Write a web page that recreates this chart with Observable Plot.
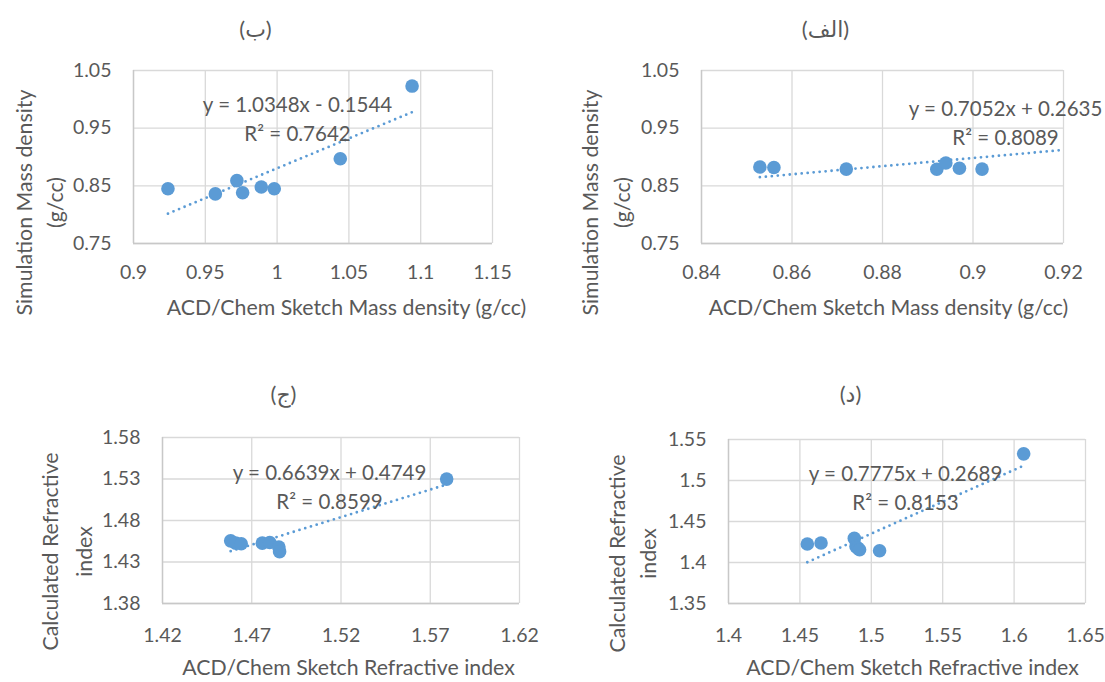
<!DOCTYPE html>
<html><head><meta charset="utf-8">
<script src="https://cdn.jsdelivr.net/npm/d3@7"></script>
<script src="https://cdn.jsdelivr.net/npm/@observablehq/plot@0.6"></script>
<style>
html,body{margin:0;padding:0;background:#fff;}
#root{position:relative;width:1105px;height:682px;overflow:hidden;}
#root svg{position:absolute;}
</style></head><body><div id="root"></div>
<script>
// ---- Panel (ب): mass density ----
const xB = [0.924, 0.957, 0.972, 0.976, 0.989, 0.998, 1.044, 1.094];
const yB = [0.845, 0.836, 0.859, 0.838, 0.848, 0.845, 0.897, 1.023];
const xTicksB = [0.9, 0.95, 1, 1.05, 1.1, 1.15];
const yTicksB = [0.75, 0.85, 0.95, 1.05];
const fitB = {slope: 1.0348, intercept: -0.1544, r2: "0.7642", from: 0.924, to: 1.094};

// ---- Panel (الف): mass density ----
const xA = [0.8529, 0.856, 0.872, 0.892, 0.894, 0.897, 0.902];
const yA = [0.8827, 0.8817, 0.879, 0.8787, 0.8896, 0.8805, 0.879];
const xTicksA = [0.84, 0.86, 0.88, 0.9, 0.92];
const yTicksA = [0.75, 0.85, 0.95, 1.05];
const fitA = {slope: 0.7052, intercept: 0.2635, r2: "0.8089", from: 0.8529, to: 0.92};

// ---- Panel (ج): refractive index ----
const xJ = [1.4582, 1.461, 1.4641, 1.4759, 1.4801, 1.4852, 1.4856, 1.5792];
const yJ = [1.4555, 1.4527, 1.452, 1.4527, 1.4535, 1.448, 1.4425, 1.5299];
const xTicksJ = [1.42, 1.47, 1.52, 1.57, 1.62];
const yTicksJ = [1.38, 1.43, 1.48, 1.53, 1.58];
const fitJ = {slope: 0.6639, intercept: 0.4749, r2: "0.8599", from: 1.4582, to: 1.5792};

// ---- Panel (د): refractive index ----
const xD = [1.4552, 1.4648, 1.4881, 1.4893, 1.4905, 1.4918, 1.5058, 1.6067];
const yD = [1.4225, 1.4237, 1.4294, 1.4195, 1.4175, 1.4155, 1.4144, 1.5325];
const xTicksD = [1.4, 1.45, 1.5, 1.55, 1.6, 1.65];
const yTicksD = [1.35, 1.4, 1.45, 1.5, 1.55];
const fitD = {slope: 0.7775, intercept: 0.2689, r2: "0.8153", from: 1.4552, to: 1.6067};

const titles = ["(ب)", "(الف)", "(ج)", "(د)"];
const xTitleMass = "ACD/Chem Sketch Mass density (g/cc)";
const yTitleMass = "Simulation Mass density\n(g/cc)";
const xTitleRI = "ACD/Chem Sketch Refractive index";
const yTitleRI = "Calculated Refractive\nindex";

const FONT = "Lato, 'DejaVu Sans', sans-serif";
const TXT = "#595959";
const BLUE = "#5b9bd5";
const GRID = "#d9d9d9";

function fmt(d) { return String(+d.toFixed(4)); }
function eqText(f) {
  const s = f.intercept < 0 ? " - " : " + ";
  return "y = " + f.slope.toFixed(4) + "x" + s + Math.abs(f.intercept).toFixed(4) + "\nR\u00b2 = " + f.r2;
}

function panel(cfg) {
  const pts = cfg.xs.map((x, i) => ({x, y: cfg.ys[i]}));
  const trend = [cfg.fit.from, cfg.fit.to].map(x => ({x, y: cfg.fit.slope * x + cfg.fit.intercept}));
  const L = cfg.left + cfg.ml, T = cfg.top + cfg.mt; // frame top-left on page
  const at = (ax, ay) => ({frameAnchor: "top-left", dx: ax - L, dy: ay - T, textAnchor: "middle", lineAnchor: "middle"});
  const svg = Plot.plot({
    width: cfg.w, height: cfg.h,
    marginLeft: cfg.ml, marginRight: cfg.mr, marginTop: cfg.mt, marginBottom: cfg.mb,
    style: {fontFamily: FONT, color: TXT, background: "transparent", overflow: "visible"},
    x: {domain: [cfg.xt[0], cfg.xt[cfg.xt.length - 1]], label: null},
    y: {domain: [cfg.yt[0], cfg.yt[cfg.yt.length - 1]], label: null},
    marks: [
      Plot.gridX(cfg.xt, {stroke: GRID, strokeOpacity: 1, strokeWidth: 1.3}),
      Plot.gridY(cfg.yt, {stroke: GRID, strokeOpacity: 1, strokeWidth: 1.3}),
      Plot.ruleX([cfg.xt[0]], {stroke: "#c8c8c8", strokeWidth: 1.4}),
      Plot.ruleY([cfg.yt[0]], {stroke: "#c8c8c8", strokeWidth: 1.4}),
      Plot.axisX(cfg.xt, {tickSize: 0, tickPadding: cfg.xPad, fontSize: 19.5, tickFormat: fmt, label: null, fill: TXT}),
      Plot.axisY(cfg.yt, {tickSize: 0, tickPadding: 22, fontSize: 19.5, tickFormat: fmt, label: null, fill: TXT}),
      Plot.line(trend, {x: "x", y: "y", stroke: BLUE, strokeWidth: 2.8, strokeDasharray: "0 6", strokeLinecap: "round"}),
      Plot.dot(pts, {x: "x", y: "y", r: 6.8, fill: BLUE, stroke: "none"}),
      Plot.text([eqText(cfg.fit)], {text: d => d, ...at(cfg.eq[0], cfg.eq[1]), fontSize: 20.5, fill: TXT, lineHeight: 1.4}),
      Plot.text([cfg.title], {text: d => d, ...at(cfg.ti[0], cfg.ti[1]), fontSize: 22, fill: TXT}),
      Plot.text([cfg.xTitle], {text: d => d, ...at(cfg.xl[0], cfg.xl[1]), fontSize: 21.3, fill: TXT}),
      Plot.text([cfg.yTitle], {text: d => d, ...at(cfg.yl[0], cfg.yl[1]), rotate: -90, fontSize: 21.3, fill: TXT, lineHeight: cfg.ylh})
    ]
  });
  svg.style.left = cfg.left + "px";
  svg.style.top = cfg.top + "px";
  document.getElementById("root").appendChild(svg);
}

panel({xs: xB, ys: yB, xt: xTicksB, yt: yTicksB, fit: fitB, title: titles[0], xTitle: xTitleMass, yTitle: yTitleMass,
  left: 0, top: 0, w: 552, h: 341, ml: 133, mr: 60, mt: 70, mb: 98, xPad: 22, ylh: 1.45,
  eq: [297, 117], ti: [255, 29], xl: [346, 308], yl: [37, 202]});
panel({xs: xA, ys: yA, xt: xTicksA, yt: yTicksA, fit: fitA, title: titles[1], xTitle: xTitleMass, yTitle: yTitleMass,
  left: 552, top: 0, w: 553, h: 341, ml: 149, mr: 42, mt: 70, mb: 98, xPad: 22, ylh: 1.5,
  eq: [1005, 121], ti: [825, 29], xl: [888, 308], yl: [603, 202]});
panel({xs: xJ, ys: yJ, xt: xTicksJ, yt: yTicksJ, fit: fitJ, title: titles[2], xTitle: xTitleRI, yTitle: yTitleRI,
  left: 0, top: 341, w: 552, h: 341, ml: 162, mr: 33, mt: 96, mb: 79, xPad: 25, ylh: 1.6,
  eq: [329, 485], ti: [283, 394], xl: [348, 668], yl: [64, 551]});
panel({xs: xD, ys: yD, xt: xTicksD, yt: yTicksD, fit: fitD, title: titles[3], xTitle: xTitleRI, yTitle: yTitleRI,
  left: 552, top: 341, w: 553, h: 341, ml: 176, mr: 20, mt: 98, mb: 79, xPad: 25, ylh: 1.45,
  eq: [905, 486], ti: [850, 394], xl: [912, 668], yl: [630, 553]});
</script>
</body></html>
